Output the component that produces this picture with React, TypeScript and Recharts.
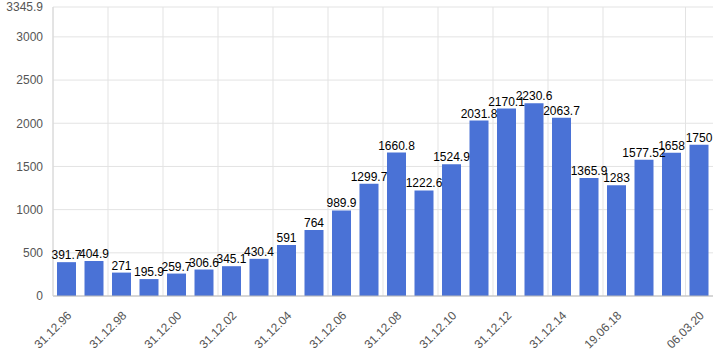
import { Bar, BarChart, CartesianGrid, LabelList, XAxis, YAxis } from "recharts";

const dates = [
  "31.12.96", "31.12.97", "31.12.98", "31.12.99", "31.12.00", "31.12.01",
  "31.12.02", "31.12.03", "31.12.04", "31.12.05", "31.12.06", "31.12.07",
  "31.12.08", "31.12.09", "31.12.10", "31.12.11", "31.12.12", "31.12.13",
  "31.12.14", "31.12.15", "19.06.18", "31.12.18", "31.12.19", "06.03.20",
];

const values = [
  391.7, 404.9, 271, 195.9, 259.7, 306.6, 345.1, 430.4, 591, 764, 989.9, 1299.7,
  1660.8, 1222.6, 1524.9, 2031.8, 2170.1, 2230.6, 2063.7, 1365.9, 1283, 1577.52, 1658, 1750,
];

// indices of the bars whose left edge carries a date label
const labelledIdx = [0, 2, 4, 6, 8, 10, 12, 14, 16, 18, 20, 23];
const yTicks = [0, 500, 1000, 1500, 2000, 2500, 3000, 3345.9];
const yMax = 3345.9;

const W = 720;
const H = 360;
const MARGIN = { top: 7, right: 7, left: 0, bottom: 0 };
const Y_W = 53;
const BAND = (W - MARGIN.right - MARGIN.left - Y_W) / values.length;

const FONT = "Arial, 'Liberation Sans', sans-serif";

const rows = dates.map((date, i) => ({ date, value: values[i] }));

// date labels sit on the left edge of their bar, rotated and centred on it
function DateTick(props: any) {
  const { x, y, index } = props;
  if (!labelledIdx.includes(index)) return null;
  const cx = x - BAND / 2;
  const cy = y + 26;
  return (
    <text
      x={cx}
      y={cy}
      transform={`rotate(-45, ${cx}, ${cy})`}
      textAnchor="middle"
      dominantBaseline="central"
      fontSize={12}
      fontFamily={FONT}
      fill="#555"
    >
      {dates[index]}
    </text>
  );
}

export default function App() {
  return (
    <div style={{ position: "absolute", left: 0, top: 0 }}>
      <style>{`body{margin:0}`}</style>
      <BarChart width={W} height={H} data={rows} margin={MARGIN} barSize={19}>
        <CartesianGrid
          stroke="#e3e3e3"
          verticalCoordinatesGenerator={({ offset }: any) =>
            labelledIdx.map((i) => offset.left + (i * offset.width) / values.length)
          }
        />
        <XAxis
          dataKey="date"
          interval={0}
          height={64}
          tickLine={false}
          axisLine={{ stroke: "#bbb" }}
          tick={<DateTick />}
        />
        <YAxis
          domain={[0, yMax]}
          ticks={yTicks}
          interval={0}
          width={Y_W}
          tickLine={false}
          tickSize={8}
          tickMargin={2}
          axisLine={{ stroke: "#d6d6d6" }}
          tick={{ fontSize: 12, fontFamily: FONT, fill: "#555" }}
        />
        <Bar dataKey="value" fill="#4a72d6" isAnimationActive={false}>
          <LabelList
            dataKey="value"
            position="top"
            offset={3}
            fontSize={12}
            fontFamily={FONT}
            fill="#000"
          />
        </Bar>
      </BarChart>
    </div>
  );
}
